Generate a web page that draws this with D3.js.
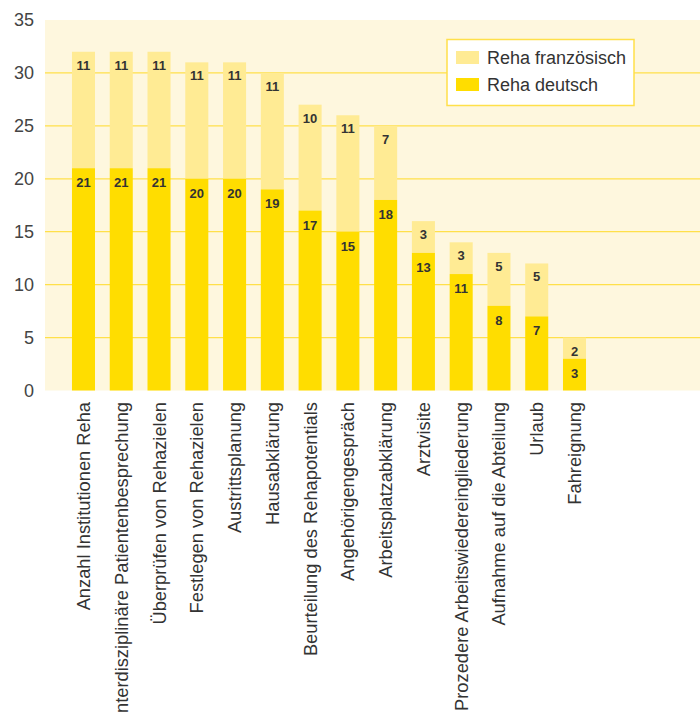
<!DOCTYPE html>
<html><head><meta charset="utf-8">
<script src="https://cdn.jsdelivr.net/npm/d3@7"></script>
<style>body{margin:0;background:#fff;} text{font-family:"Liberation Sans",Arial,Helvetica,sans-serif;}</style>
</head><body><svg id="c" width="700" height="713"></svg>
<script>
const categories = ["Anzahl Institutionen Reha","Interdisziplinäre Patientenbesprechung","Überprüfen von Rehazielen","Festlegen von Rehazielen","Austrittsplanung","Hausabklärung","Beurteilung des Rehapotentials","Angehörigengespräch","Arbeitsplatzabklärung","Arztvisite","Prozedere Arbeitswiedereingliederung","Aufnahme auf die Abteilung","Urlaub","Fahreignung"];
const rehaDeutsch = [21,21,21,20,20,19,17,15,18,13,11,8,7,3];
const rehaFranz = [11,11,11,11,11,11,10,11,7,3,3,5,5,2];
const yTicks = [0,5,10,15,20,25,30,35];
const seriesNames = ["Reha französisch","Reha deutsch"];

const svg = d3.select("#c");
const plotL = 45, plotR = 700, plotT = 20, plotB = 390.5;
const y = d3.scaleLinear().domain([0,35]).range([plotB, plotT]);
const step = 37.77;
const x = d3.scaleBand().domain(categories).range([64.6, 64.6 + step*categories.length]).paddingInner(0.39).paddingOuter(0.195);

svg.append("rect").attr("x",plotL).attr("y",plotT).attr("width",plotR-plotL).attr("height",plotB-plotT).attr("fill","#FEF7DE");

svg.selectAll("line.grid").data(yTicks.filter(d=>d>0 && d<35)).enter().append("line")
  .attr("x1",plotL).attr("x2",plotR).attr("y1",d=>y(d)).attr("y2",d=>y(d))
  .attr("stroke","#FFE04A").attr("stroke-width",1.3);

svg.selectAll("text.ytick").data(yTicks).enter().append("text")
  .attr("x",34).attr("y",d=>y(d)).attr("dy","0.36em").attr("text-anchor","end")
  .attr("font-size",18).attr("fill","#444").text(d=>d);

const cD = "#FFDD00", cF = "#FFEB94";
categories.forEach((c,i)=>{
  const d = rehaDeutsch[i], f = rehaFranz[i];
  svg.append("rect").attr("x",x(c)).attr("width",x.bandwidth()).attr("y",y(d+f)).attr("height",y(d)-y(d+f)).attr("fill",cF);
  svg.append("rect").attr("x",x(c)).attr("width",x.bandwidth()).attr("y",y(d)).attr("height",y(0)-y(d)).attr("fill",cD);
  svg.append("text").attr("x",x(c)+x.bandwidth()/2).attr("y",y(d+f)+18).attr("text-anchor","middle")
    .attr("font-size",13).attr("font-weight","bold").attr("fill","#333").text(f);
  svg.append("text").attr("x",x(c)+x.bandwidth()/2).attr("y",y(d)+19).attr("text-anchor","middle")
    .attr("font-size",13).attr("font-weight","bold").attr("fill","#333").text(d);
  svg.append("text").attr("transform",`translate(${x(c)+x.bandwidth()/2+6.5},402) rotate(-90)`)
    .attr("text-anchor","end").attr("font-size",18.3).attr("fill","#333").text(c);
});

// legend
const lg = svg.append("g");
lg.append("rect").attr("x",447).attr("y",39.5).attr("width",187).attr("height",66).attr("fill","#fff").attr("stroke","#FFE04A").attr("stroke-width",1.5);
[cF,cD].forEach((col,i)=>{
  lg.append("rect").attr("x",456).attr("y",51+i*27).attr("width",23).attr("height",13).attr("fill",col);
  lg.append("text").attr("x",487).attr("y",57.5+i*27).attr("dy","0.36em").attr("font-size",18).attr("fill","#333").text(seriesNames[i]);
});
</script></body></html>
